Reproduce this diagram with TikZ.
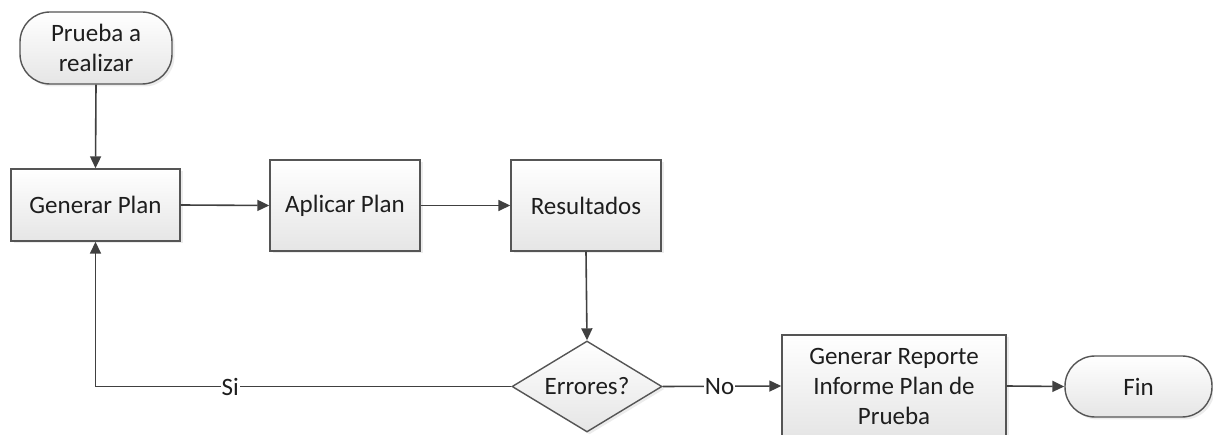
\documentclass[tikz,border=0pt]{standalone}
\usepackage{fontspec}
\setmainfont{Carlito}
\usetikzlibrary{shapes.geometric,arrows.meta,shadows}
\definecolor{edge}{HTML}{555555}
\definecolor{linec}{HTML}{404040}
\definecolor{txt}{HTML}{1E1E1E}
\begin{document}
\begin{tikzpicture}[x=1pt,y=-1pt,
  base/.style={draw=edge, line width=1.4pt, top color=white, bottom color=black!10,
    drop shadow={shadow xshift=2.5pt, shadow yshift=-2.5pt, opacity=0.15},
    inner sep=0pt, align=center, text=txt, font=\fontsize{25}{30}\selectfont},
  box/.style={base, rectangle},
  term/.style={base, rectangle, rounded corners=30pt},
  dec/.style={base, diamond, aspect=1.65},
  arr/.style={draw=linec, line width=1.6pt, -{Triangle[length=12pt,width=11pt]}},
  lbl/.style={fill=white, inner sep=1pt, text=txt, font=\fontsize{25}{30}\selectfont}]
\useasboundingbox (0,0) rectangle (1213,435);
\node[term, minimum width=152pt, minimum height=72pt] (start) at (96,48) {Prueba a\\realizar};
\node[box, minimum width=169pt, minimum height=72pt] (gp) at (95.5,205) {Generar Plan};
\node[box, minimum width=150pt, minimum height=91pt] (ap) at (345,205.5) {Aplicar Plan};
\node[box, minimum width=150pt, minimum height=91pt] (res) at (586,205.5) {Resultados};
\node[dec, minimum width=150pt, minimum height=91pt] (dia) at (587,386.5) {Errores?};
\node[box, minimum width=224pt, minimum height=102pt] (rep) at (894,386) {Generar Reporte\\Informe Plan de\\Prueba};
\node[term, minimum width=147pt, minimum height=61pt] (fin) at (1138.5,386.5) {Fin};
\draw[arr] (start.south) -- (gp.north);
\draw[arr] (gp.east) -- (ap.west);
\draw[arr] (ap.east) -- (res.west);
\draw[arr] (res.south) -- (dia.north);
\draw[arr] (dia.west) -- node[lbl, pos=0.676] {Si} (gp.south |- dia.west) -- (gp.south);
\draw[arr] (dia.east) -- node[lbl, pos=0.48] {No} (rep.west);
\draw[arr] (rep.east) -- (fin.west);
\end{tikzpicture}
\end{document}
